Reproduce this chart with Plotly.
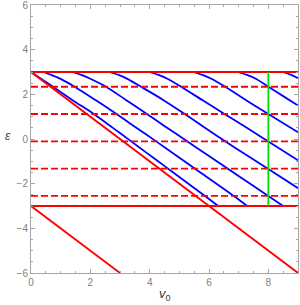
import plotly.graph_objects as go

# ---- data ----
band_top = 3.0
band_bottom = -3.0
v0_span = [0.0, 9.0]

# dashed reference levels (epsilon)
dashed_levels = [2.34, 1.12, -0.11, -1.33, -2.55]

# red diagonal lines (v0, eps end points)
diag1_v0 = [0.0, 9.0]
diag1_eps = [3.0, -6.0]
diag2_v0 = [0.0, 3.0]
diag2_eps = [-3.0, -6.0]

# green vertical marker
green_v0 = [8.0, 8.0]
green_eps = [-3.0, 3.0]

# blue curves (v0, eps)
blue1_v0 = [0.0, 0.35, 0.74, 1.4, 2.14, 2.75, 3.32, 3.9, 4.47, 5.0, 5.9, 6.31]
blue1_eps = [3.0, 2.69, 2.34, 1.74, 1.1, 0.51, -0.05, -0.62, -1.18, -1.7, -2.59, -3.0]

blue2_v0 = [0.42, 0.7, 1.0, 1.47, 2.2, 2.87, 3.5, 4.16, 5.52, 6.85, 7.29]
blue2_eps = [3.0, 2.86, 2.69, 2.34, 1.72, 1.13, 0.55, -0.05, -1.32, -2.56, -3.0]

blue3_v0 = [1.40, 1.7, 2.0, 2.53, 3.2, 3.88, 4.47, 5.25, 5.95, 6.65, 7.35, 8.0, 8.5]
blue3_eps = [3.0, 2.87, 2.7, 2.34, 1.75, 1.14, 0.61, -0.09, -0.72, -1.34, -1.97, -2.55, -3.0]

blue4_v0 = [2.65, 2.95, 3.25, 3.71, 4.47, 5.17, 5.85, 6.52, 7.25, 8.0, 9.0]
blue4_eps = [3.0, 2.87, 2.69, 2.34, 1.74, 1.13, 0.52, -0.08, -0.71, -1.34, -2.2]

blue5_v0 = [4.0, 4.3, 4.6, 5.06, 5.8, 6.55, 7.3, 8.0, 9.0]
blue5_eps = [3.0, 2.87, 2.7, 2.34, 1.72, 1.1, 0.48, -0.11, -0.95]

blue6_v0 = [5.48, 5.78, 6.08, 6.52, 7.25, 8.0, 9.0]
blue6_eps = [3.0, 2.87, 2.7, 2.36, 1.74, 1.12, 0.3]

blue7_v0 = [6.98, 7.28, 7.58, 8.0, 8.5, 9.0]
blue7_eps = [3.0, 2.87, 2.7, 2.34, 1.92, 1.5]

blue8_v0 = [8.48, 8.75, 9.0]
blue8_eps = [3.0, 2.88, 2.72]

x_ticks = [0, 2, 4, 6, 8]
y_ticks = [-6, -4, -2, 0, 2, 4, 6]

RED = "#ff0000"
BLUE = "#0000ff"
GREEN = "#00e000"

fig = go.Figure()

blues = [(blue1_v0, blue1_eps), (blue2_v0, blue2_eps), (blue3_v0, blue3_eps),
         (blue4_v0, blue4_eps), (blue5_v0, blue5_eps), (blue6_v0, blue6_eps),
         (blue7_v0, blue7_eps), (blue8_v0, blue8_eps)]
for bx, by in blues:
    fig.add_trace(go.Scatter(x=bx, y=by, mode="lines",
                             line=dict(color=BLUE, width=1.8, shape="spline", smoothing=0.8),
                             hoverinfo="skip", showlegend=False))

for lv in dashed_levels:
    fig.add_trace(go.Scatter(x=v0_span, y=[lv, lv], mode="lines",
                             line=dict(color=RED, width=1.8, dash="7px,3px"),
                             showlegend=False))

for lv in [band_top, band_bottom]:
    fig.add_trace(go.Scatter(x=v0_span, y=[lv, lv], mode="lines",
                             line=dict(color=RED, width=2), showlegend=False))

fig.add_trace(go.Scatter(x=diag1_v0, y=diag1_eps, mode="lines", line=dict(color=RED, width=1.8), showlegend=False))
fig.add_trace(go.Scatter(x=diag2_v0, y=diag2_eps, mode="lines", line=dict(color=RED, width=1.8), showlegend=False))
fig.add_trace(go.Scatter(x=green_v0, y=green_eps, mode="lines", line=dict(color=GREEN, width=1.8), showlegend=False))

axis_common = dict(showgrid=False, zeroline=False, showline=True, linecolor="#a6a6a6", linewidth=1,
                   mirror="ticks", ticks="inside", ticklen=4, tickcolor="#a6a6a6", tickwidth=1,
                   automargin=False, ticklabeloverflow="allow",
                   tickfont=dict(family="Liberation Sans", size=10, color="#808080"))

fig.update_xaxes(range=[0, 9], tickvals=x_ticks, ticktext=[str(t) for t in x_ticks],
                 minor=dict(ticks="inside", ticklen=2, dtick=0.5, tick0=0, tickcolor="#a6a6a6"),
                 **axis_common)
fig.update_yaxes(range=[-6, 6], tickvals=y_ticks,
                 ticktext=[("\u2212" + str(-t)) if t < 0 else str(t) for t in y_ticks],
                 minor=dict(ticks="inside", ticklen=2, dtick=0.5, tick0=0, tickcolor="#a6a6a6"),
                 **axis_common)

fig.add_annotation(text="<i>v</i><sub>0</sub>", xref="paper", yref="paper", x=0.5, y=-0.08,
                   showarrow=False, font=dict(family="Liberation Sans", size=13, color="#404040"),
                   xanchor="center", yanchor="middle")
fig.add_annotation(text="<i>ε</i>", xref="paper", yref="paper", x=-0.086, y=0.51,
                   showarrow=False, font=dict(family="Liberation Sans", size=12, color="#404040"),
                   xanchor="center", yanchor="middle")

fig.update_layout(width=300, height=305, margin=dict(l=31, r=2, t=5, b=32, autoexpand=False),
                  paper_bgcolor="white", plot_bgcolor="white", showlegend=False)

fig.write_html("out.html", config={"displayModeBar": False},
               post_script="document.body.style.margin='0';document.body.style.padding='0';"
                           "document.body.style.overflow='hidden';")
